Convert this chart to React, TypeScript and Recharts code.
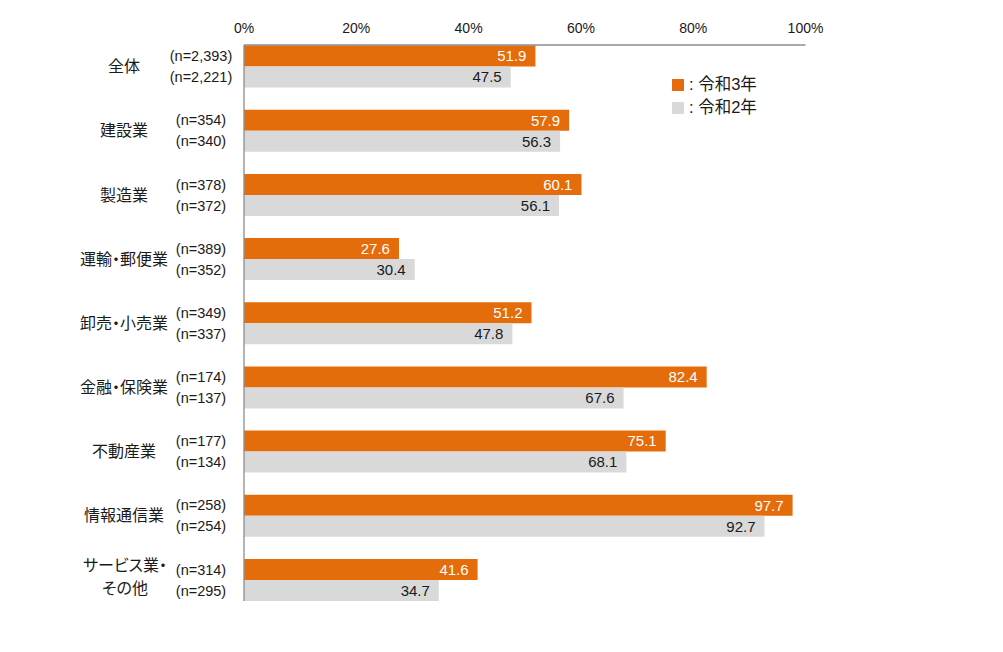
import React from "react";
import { BarChart, Bar, XAxis, YAxis, LabelList } from "recharts";

const categories = [
  "全体",
  "建設業",
  "製造業",
  "運輸・郵便業",
  "卸売・小売業",
  "金融・保険業",
  "不動産業",
  "情報通信業",
  "サービス業・その他",
];
const valuesR3 = [51.9, 57.9, 60.1, 27.6, 51.2, 82.4, 75.1, 97.7, 41.6];
const valuesR2 = [47.5, 56.3, 56.1, 30.4, 47.8, 67.6, 68.1, 92.7, 34.7];
const nR3 = ["2,393", "354", "378", "389", "349", "174", "177", "258", "314"];
const nR2 = ["2,221", "340", "372", "352", "337", "137", "134", "254", "295"];
const xTicks = [0, 20, 40, 60, 80, 100];
const seriesNames = ["令和3年", "令和2年"];

const ORANGE = "#E46C0A";
const GRAY = "#D9D9D9";
const FONT = '"Liberation Sans", Arial, "Noto Sans CJK JP", sans-serif';
const TEXT = "#1a1a1a";
const PALT = { fontFeatureSettings: '"palt"' } as React.CSSProperties;

const data = categories.map((c, i) => ({
  name: c,
  r3: valuesR3[i],
  r2: valuesR2[i],
}));

const CategoryTick = (props: any) => {
  const { y, payload, index } = props;
  const name: string = payload.value;
  const i = index ?? categories.indexOf(name);
  const lines = name === "サービス業・その他" ? ["サービス業・", "その他"] : [name];
  return (
    <g>
      {lines.length === 1 ? (
        <text x={116} y={y} dy={5.5} textAnchor="middle" fontSize={16} fill={TEXT} fontFamily={FONT} style={PALT}>
          {lines[0]}
        </text>
      ) : (
        lines.map((l, k) => (
          <text key={k} x={117} y={y - 15 + k * 23} dy={5.5} textAnchor="middle" fontSize={16} fill={TEXT} fontFamily={FONT} style={PALT}>
            {l}
          </text>
        ))
      )}
      <text x={193} y={y - 10.5} dy={5} textAnchor="middle" fontSize={14.5} fill={TEXT} fontFamily={FONT}>
        {`(n=${nR3[i]})`}
      </text>
      <text x={193} y={y + 10.5} dy={5} textAnchor="middle" fontSize={14.5} fill={TEXT} fontFamily={FONT}>
        {`(n=${nR2[i]})`}
      </text>
    </g>
  );
};

export default function App() {
  return (
    <div style={{ position: "relative", width: 990, height: 636, fontFamily: FONT }}>
      <BarChart
        width={990}
        height={636}
        data={data}
        layout="vertical"
        margin={{ top: 0, right: 192.5, bottom: 43, left: 0 }}
        barGap={0}
        barSize={21}
      >
        <XAxis
          type="number"
          orientation="top"
          domain={[0, 100]}
          ticks={xTicks}
          tickFormatter={(v: number) => `${v}%`}
          height={37}
          tickLine={false}
          tickSize={6}
          tickMargin={6}
          axisLine={{ stroke: "#8c8c8c", strokeWidth: 1.3 }}
          tick={{ fontSize: 14, fill: TEXT, fontFamily: FONT }}
          interval={0}
        />
        <YAxis
          type="category"
          dataKey="name"
          width={236}
          padding={{ top: -10.4, bottom: -11.1 }}
          tickLine={false}
          axisLine={{ stroke: "#8c8c8c", strokeWidth: 1.3 }}
          tick={<CategoryTick />}
          interval={0}
        />
        <Bar dataKey="r3" name={seriesNames[0]} fill={ORANGE} isAnimationActive={false}>
          <LabelList
            dataKey="r3"
            position="insideRight"
            offset={9}
            fill="#ffffff"
            fontSize={15}
            fontFamily={FONT}
            formatter={(v: any) => Number(v).toFixed(1)}
          />
        </Bar>
        <Bar dataKey="r2" name={seriesNames[1]} fill={GRAY} isAnimationActive={false}>
          <LabelList
            dataKey="r2"
            position="insideRight"
            offset={9}
            fill={TEXT}
            fontSize={15}
            fontFamily={FONT}
            formatter={(v: any) => Number(v).toFixed(1)}
          />
        </Bar>
      </BarChart>
      <div style={{ position: "absolute", left: 664, top: 65, fontSize: 16.5, color: TEXT, lineHeight: "23px" }}>
        {seriesNames.map((s, i) => (
          <div key={s} style={{ display: "flex", alignItems: "center", height: 23 }}>
            <span style={{ display: "inline-block", width: 12, height: 12, background: i === 0 ? ORANGE : GRAY, marginRight: 5 }} />
            <span>{`: ${s}`}</span>
          </div>
        ))}
      </div>
    </div>
  );
}
